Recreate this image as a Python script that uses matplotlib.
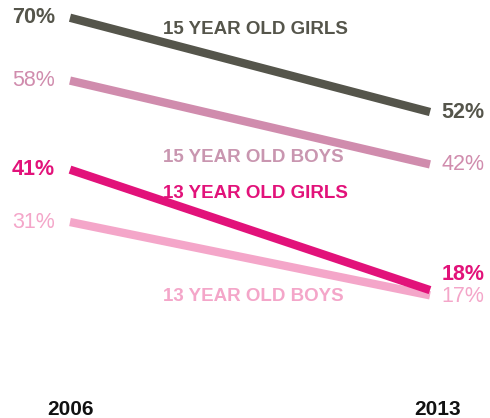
import matplotlib.pyplot as plt

plt.rcParams['font.family'] = ['Liberation Sans', 'DejaVu Sans']

# Share of young people, 2006 vs 2013
years = ["2006", "2013"]
groups = ["15 YEAR OLD GIRLS", "15 YEAR OLD BOYS", "13 YEAR OLD GIRLS", "13 YEAR OLD BOYS"]
start_values = [70, 58, 41, 31]
end_values = [52, 42, 18, 17]
colors = ["#55554b", "#d08cad", "#e2127a", "#f4a6c9"]
label_colors = ["#55554b", "#c996b0", "#e2127a", "#f4a6c9"]
bold = [True, False, True, False]
label_y = [67.7, 43.4, 36.5, 16.7]
# nudges so the two close end labels do not collide
end_label_shift = [0, 0, 3.0, -0.3]

px_per_pt = 5.238
zero_px = 384.4

fig = plt.figure(figsize=(4.90, 4.18), dpi=100)
ax = fig.add_axes([0, 0, 1, 1])
ax.set_xlim(-70 / 360, 420 / 360)
ax.set_ylim((zero_px - 418) / px_per_pt, zero_px / px_per_pt)
ax.axis("off")

for i, name in enumerate(groups):
    ax.plot([0, 1], [start_values[i], end_values[i]], color=colors[i],
            linewidth=6, solid_capstyle="butt", zorder=3 if bold[i] else 2)
    weight = "bold" if bold[i] else "normal"
    ax.text(-0.042, start_values[i], f"{start_values[i]}%", ha="right", va="center",
            fontsize=15.5, color=colors[i], fontweight=weight)
    ax.text(1.031, end_values[i] + end_label_shift[i], f"{end_values[i]}%",
            ha="left", va="center", fontsize=15.5, color=colors[i], fontweight=weight)
    ax.text(0.258, label_y[i], name, ha="left", va="center",
            fontsize=13.5, color=label_colors[i], fontweight="bold", zorder=4)

ax.text(0, -4.8, years[0], ha="center", va="center", fontsize=15,
        fontweight="bold", color="#111111")
ax.text(1.02, -4.8, years[1], ha="center", va="center", fontsize=15,
        fontweight="bold", color="#111111")

fig.savefig("out.png", dpi=100)
